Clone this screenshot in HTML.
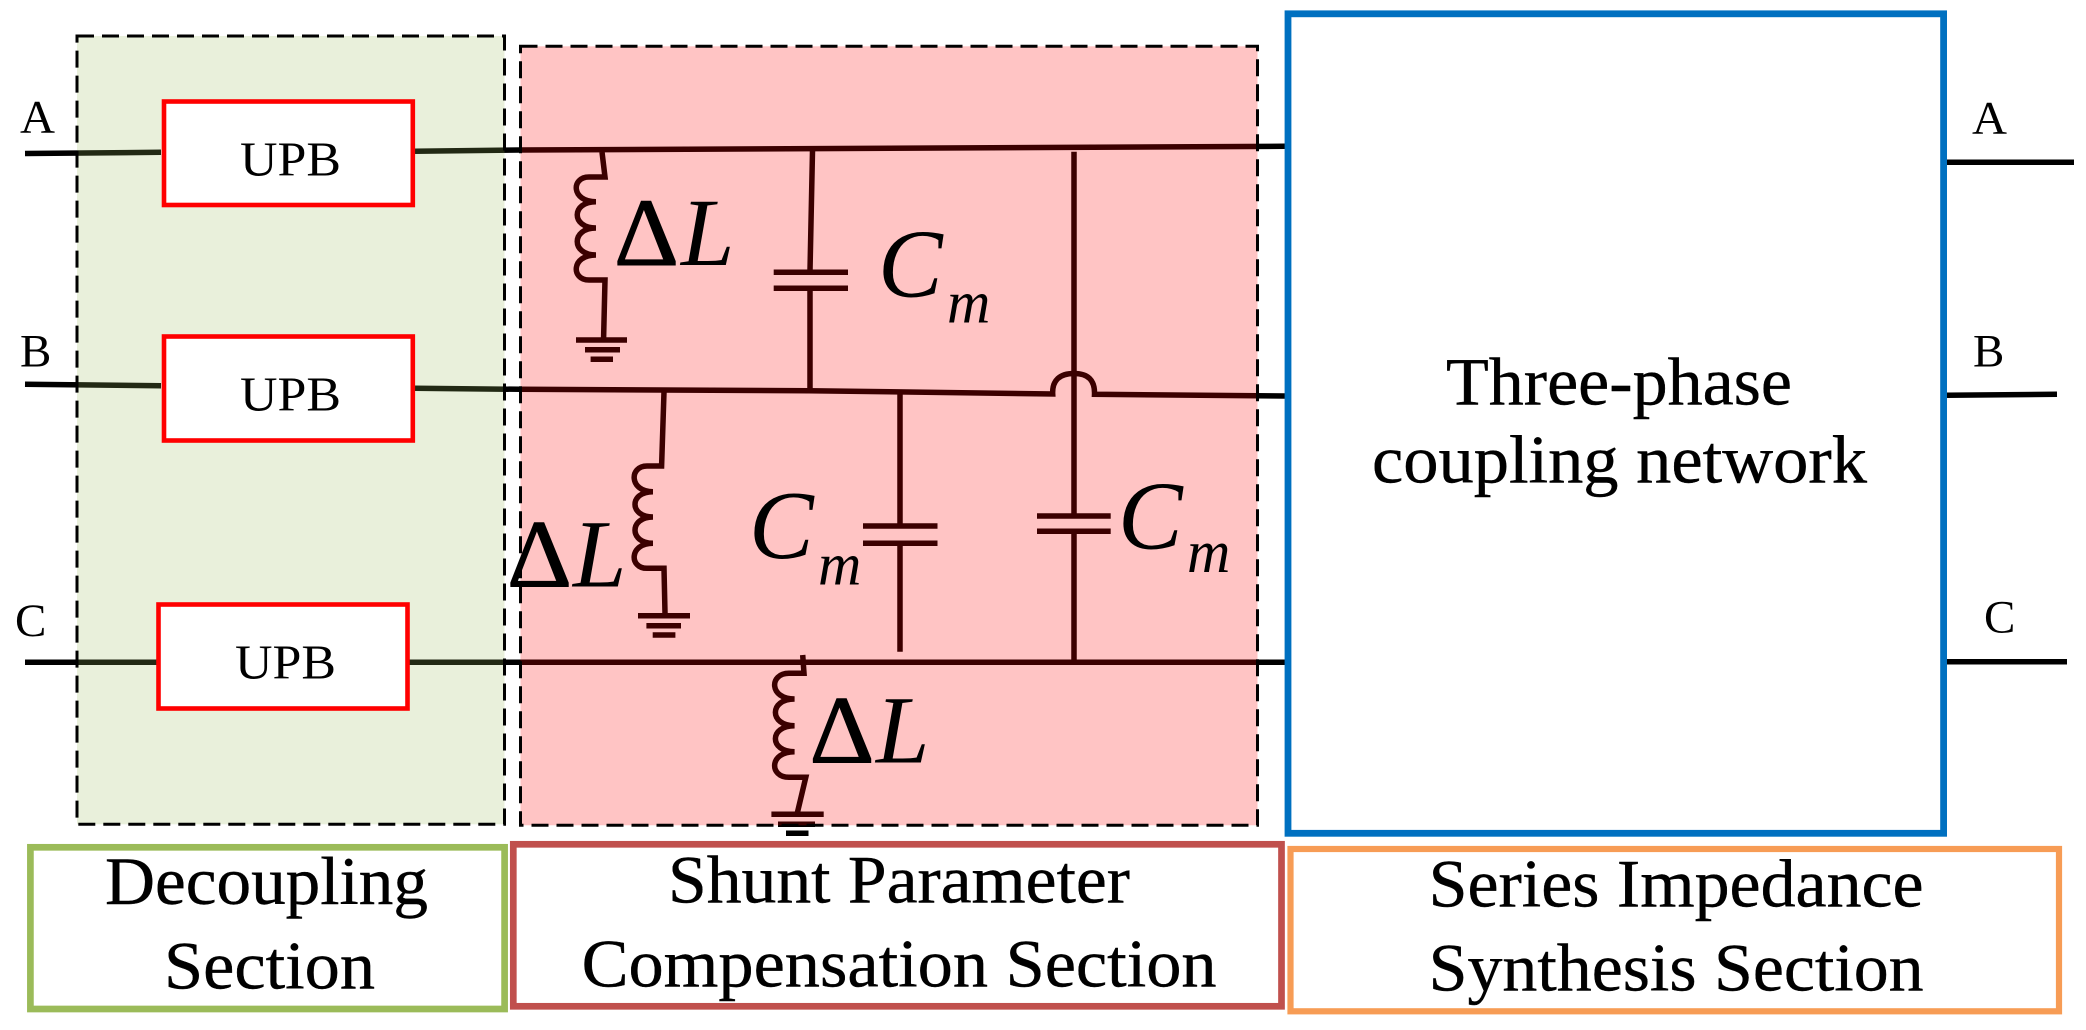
<!DOCTYPE html>
<html><head><meta charset="utf-8"><style>
html,body{margin:0;padding:0;background:#fff;width:2086px;height:1030px;overflow:hidden}
svg{display:block}
text{font-family:"Liberation Serif",serif;fill:#000}
.i{font-style:italic}
.w{fill:none;stroke:#000;stroke-width:5.5;stroke-linejoin:miter}
.d{stroke:#000;stroke-width:1}
.t{stroke:#000;stroke-width:.4}
</style></head><body>
<svg width="2086" height="1030" viewBox="0 0 2086 1030" xmlns="http://www.w3.org/2000/svg">
<rect width="2086" height="1030" fill="#fff"/>
<!-- wires -->
<g class="w">
<path d="M25 153.5L161 152.3"/>
<path d="M415 151.3L520 150L1285 146.3"/>
<path d="M25 384.3L161 385.7"/>
<path d="M415 388.3L520 389.3L809 390.7L1052.7 394C1052 380 1060 373.5 1074 373.5C1088 373.5 1095 380 1094.5 394.3L1285 396"/>
<path d="M25 662.3L1285 662.3"/>
<path d="M1947 162.3H2074"/>
<path d="M1947 395.3L2057 394.3"/>
<path d="M1947 661.7H2067"/>
<!-- inductor 1 -->
<path d="M602 152L605 177L589 177C571 177 571 201.7 596 201.7C571 201.7 571 228 596 228C571 228 571 255 596 255C571 255 571 280 589 280L605 280L603.6 338"/>
<path d="M576 340H627M585 349.7H620M590.6 359.3H613"/>
<!-- inductor 2 -->
<path d="M664 392L661.6 466L647 466C629 466 629 491.7 653 491.7C629 491.7 629 517 653 517C629 517 629 543.3 653 543.3C629 543.3 629 568.3 647 568.3L664 568.3L665 613"/>
<path d="M638 615.7H690M646.4 625.7H681M652.7 635H675.4"/>
<!-- inductor 3 -->
<path d="M802.7 655L804 673.3L789 673.3C769 673.3 769 699 794.6 699C769 699 769 725.7 794.6 725.7C769 725.7 769 751.7 794.6 751.7C769 751.7 769 777.3 789 777.3L805.8 777.3L797.3 813"/>
<path d="M771.4 814.3H823.7M778 824.3H815M786 833.3H808.5"/>
<!-- capacitor 1 -->
<path d="M812.5 151L810 270.7M810 288.3V390M773.7 272.3H848M773.7 288.3H848"/>
<!-- capacitor 2 -->
<path d="M900 393V526M900 543.3V651.7M863 526H937.5M863 543.3H937.5"/>
<!-- capacitor 3 -->
<path d="M1074 151.7V516M1074 531.3V662M1037 516H1110.7M1037 531.3H1110.7"/>
</g>
<!-- translucent section fills -->
<rect x="77" y="36" width="427.5" height="788.3" fill="#9BBB59" fill-opacity="0.22"/>
<rect x="520.5" y="46.3" width="737" height="779" fill="#FF0000" fill-opacity="0.23"/>
<!-- dashed borders -->
<rect x="77" y="36" width="427.5" height="788.3" fill="none" stroke="#000" stroke-width="3" stroke-dasharray="17 8"/>
<rect x="520.5" y="46.3" width="737" height="779" fill="none" stroke="#000" stroke-width="3" stroke-dasharray="17 8"/>
<!-- UPB boxes -->
<g fill="#fff" stroke="#FF0000" stroke-width="4.6">
<rect x="164" y="101.5" width="248.8" height="103.5"/>
<rect x="164" y="336.5" width="248.8" height="104"/>
<rect x="158.5" y="604.5" width="249" height="104"/>
</g>
<!-- coupling network -->
<rect x="1288" y="13.8" width="655.6" height="819.5" fill="#fff" stroke="#0070C0" stroke-width="6.8"/>
<!-- legend boxes -->
<rect x="30.4" y="847.3" width="474.2" height="161.7" fill="#fff" stroke="#9BBB59" stroke-width="6.7"/>
<rect x="513.3" y="844.3" width="768.2" height="162" fill="#fff" stroke="#C0504D" stroke-width="6.7"/>
<rect x="1290.5" y="849" width="768.5" height="162.3" fill="#fff" stroke="#F79C55" stroke-width="6.2"/>
<!-- port labels -->
<g font-size="47">
<text x="20" y="132.7" textLength="35" lengthAdjust="spacingAndGlyphs">A</text>
<text x="20" y="366.7">B</text>
<text x="15" y="636">C</text>
<text x="1972" y="133.3" textLength="35" lengthAdjust="spacingAndGlyphs">A</text>
<text x="1973" y="366.7">B</text>
<text x="1984" y="632.5">C</text>
</g>
<g font-size="49">
<text x="240" y="175.3" textLength="101" lengthAdjust="spacingAndGlyphs">UPB</text>
<text x="240" y="410.7" textLength="101" lengthAdjust="spacingAndGlyphs">UPB</text>
<text x="235" y="678.3" textLength="101" lengthAdjust="spacingAndGlyphs">UPB</text>
</g>
<!-- large labels -->
<g font-size="68" class="t">
<text x="1446" y="404.3" textLength="346" lengthAdjust="spacingAndGlyphs">Three-phase</text>
<text x="1372" y="482.7" textLength="495" lengthAdjust="spacingAndGlyphs">coupling network</text>
<text x="105" y="904" textLength="323" lengthAdjust="spacingAndGlyphs">Decoupling</text>
<text x="164" y="988.3" textLength="211" lengthAdjust="spacingAndGlyphs">Section</text>
<text x="668" y="902.7" textLength="462" lengthAdjust="spacingAndGlyphs">Shunt Parameter</text>
<text x="581.6" y="986.7" textLength="635" lengthAdjust="spacingAndGlyphs">Compensation Section</text>
<text x="1428.6" y="906.7" textLength="495" lengthAdjust="spacingAndGlyphs">Series Impedance</text>
<text x="1428.6" y="990.7" textLength="495" lengthAdjust="spacingAndGlyphs">Synthesis Section</text>
</g>
<!-- delta L -->
<g font-size="96">
<text class="d" x="614" y="265" textLength="65" lengthAdjust="spacingAndGlyphs">Δ</text><text class="i" x="681" y="265">L</text>
<text class="d" x="507" y="586.7" textLength="65" lengthAdjust="spacingAndGlyphs">Δ</text><text class="i" x="573" y="586.7">L</text>
<text class="d" x="809.5" y="762.3" textLength="65" lengthAdjust="spacingAndGlyphs">Δ</text><text class="i" x="876" y="762.3">L</text>
</g>
<g font-size="97">
<text class="i" x="878" y="296.5">C</text>
<text class="i" x="749" y="558">C</text>
<text class="i" x="1118" y="548.5">C</text>
</g>
<g font-size="60">
<text class="i" x="947" y="322.7">m</text>
<text class="i" x="818" y="584.3">m</text>
<text class="i" x="1187" y="572">m</text>
</g>
</svg>
</body></html>
